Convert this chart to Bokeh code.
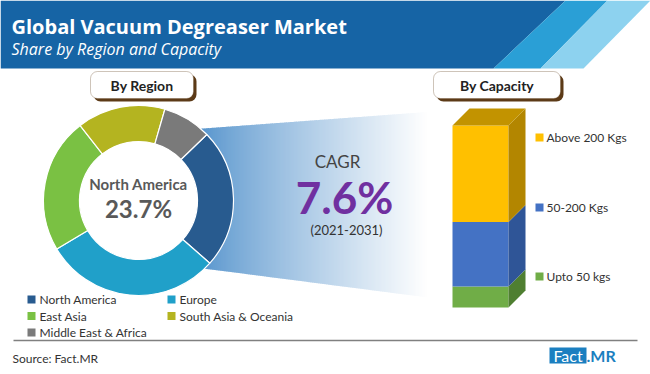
import numpy as np
from bokeh.plotting import figure
from bokeh.models import Range1d, BoxAnnotation
from bokeh.embed import file_html
from bokeh.resources import INLINE
from bokeh.core.properties import value

# ---------------- data ----------------
title = "Global Vacuum Degreaser Market"
subtitle = "Share by Region and Capacity"
regions = ["North America", "Europe", "East Asia", "South Asia & Oceania", "Middle East & Africa"]
region_share = [23.7, 30.0, 23.0, 15.0, 8.3]
region_colors = ["#285b8f", "#20a0c9", "#7ac143", "#b4b420", "#7a7a7a"]
highlight_region = "North America"
capacities = ["Upto 50 kgs", "50-200 Kgs", "Above 200 Kgs"]
capacity_share = [11.5, 35.5, 53.0]
capacity_front = ["#70ad47", "#4472c4", "#ffc000"]
capacity_side = ["#4f7f31", "#2f5597", "#b38600"]
cagr_label = "CAGR"
cagr_value = 7.6
cagr_period = "(2021-2031)"
source = "Source: Fact.MR"

# ---------------- figure ----------------
W, H = 650, 374
p = figure(width=W, height=H, x_range=Range1d(0, W), y_range=Range1d(-H, 0),
           output_backend="svg", toolbar_location=None, min_border=0,
           x_axis_location=None, y_axis_location=None)
p.grid.visible = False
p.outline_line_color = None
p.background_fill_color = "white"
p.border_fill_color = "white"

def txt(x, y, s, size, color="#333333", font="Lato", style="normal", align="left"):
    p.text(x=[x], y=[-y], text=[s], text_font=value(font), text_font_size=f"{size}px",
           text_font_style=style, text_color=color, text_align=align, text_baseline="middle")

# ---------------- banner ----------------
p.patch([0, 565, 493, 0], [0, 0, -68, -68], color="#1664a5", line_color=None)
p.patch([565, 607, 540, 493], [0, 0, -68, -68], color="#2a9fd6", line_color=None)
p.patch([607, 650, 583, 540], [0, 0, -68, -68], color="#8dd2ef", line_color=None)
txt(11, 26, title, 20, "white", "Open Sans", "bold")
txt(11, 48, subtitle, 16, "white", "Open Sans", "italic")

# ---------------- header boxes ----------------
for (l, r) in [(90, 193), (433, 560)]:
    p.add_layout(BoxAnnotation(left=l + 3, right=r + 3, top=-74, bottom=-101, fill_color="#5c3a17",
                               fill_alpha=1, line_color=None, border_radius=7, level="underlay"))
    p.add_layout(BoxAnnotation(left=l, right=r, top=-71, bottom=-98, fill_color="white", fill_alpha=1,
                               line_color="#5c3a17", line_width=1, border_radius=7, level="underlay"))
txt(141.5, 85, "By Region", 14, "#222222", "Lato", "bold", "center")
txt(496.5, 85, "By Capacity", 14, "#222222", "Lato", "bold", "center")

# ---------------- gradient funnel ----------------
cx, cy, R_out, R_in = 138, 200, 95, 59
x0, x1 = 198, 425
c0 = np.array([86, 148, 205]); c1 = np.array([255, 255, 255])
step = 2
xs, ys, cols = [], [], []
def top(x): return 128 + (112 - 128) * (x - 203) / (420 - 203)
def bot(x): return 268 + (296 - 268) * (x - 203) / (420 - 203)
for xa in np.arange(x0, x1, step):
    xb = xa + step + 0.6
    xs.append([xa, xb, xb, xa])
    ys.append([-top(xa), -top(xb), -bot(xb), -bot(xa)])
    t = min(1.0, (xa - x0) / (x1 - x0)) ** 0.85
    c = (c0 + (c1 - c0) * t).astype(int)
    cols.append("#%02x%02x%02x" % tuple(c))
p.patches(xs, ys, fill_color=cols, line_color=None)

# ---------------- donut ----------------
start_deg = 44.0  # math angle where the first slice starts, going clockwise
cum = np.concatenate([[0], np.cumsum(region_share)])
sa = start_deg - cum[:-1] / sum(region_share) * 360
ea = start_deg - cum[1:] / sum(region_share) * 360
p.annular_wedge(x=[cx] * len(regions), y=[-cy] * len(regions), inner_radius=R_in, outer_radius=R_out,
                start_angle=list(sa), end_angle=list(ea), start_angle_units="deg", end_angle_units="deg",
                direction="clock", fill_color=region_colors, line_color="white", line_width=1.2)
hi = regions.index(highlight_region)
txt(cx, 183, highlight_region, 15, "#595959", "Lato", "bold", "center")
txt(cx, 208, f"{region_share[hi]}%", 24, "#595959", "Lato", "bold", "center")

# region legend (2 columns)
for i, (name, col) in enumerate(zip(regions, region_colors)):
    lx = 27 if i % 2 == 0 else 167
    ly = 299 + 16.5 * (i // 2)
    p.rect(x=[lx + 4], y=[-ly], width=8, height=8, fill_color=col, line_color=None)
    txt(lx + 12, ly, name, 12, "#333333", "Lato")

# ---------------- CAGR ----------------
txt(337, 161, cagr_label, 17, "#444444", "Lato", "normal", "center")
txt(344, 196, f"{cagr_value}%", 44, "#7030a0", "Lato", "bold", "center")
txt(346, 229, cagr_period, 13, "#333333", "Lato", "normal", "center")

# ---------------- 3D stacked bar ----------------
bar_bot_px, bar_top_px = 307, 125
total = sum(capacity_share)
k = total / (bar_bot_px - bar_top_px)
# extra range maps the share scale onto the bar's vertical extent
p.extra_y_ranges = {"cap": Range1d(start=(-H + bar_bot_px) * k, end=(0 + bar_bot_px) * k)}
bl, br, dx = 452, 508, 17
dv = 17 * k
ccum = np.concatenate([[0], np.cumsum(capacity_share)])
p.quad(left=bl, right=br, bottom=list(ccum[:-1]), top=list(ccum[1:]), fill_color=capacity_front,
       line_color=None, y_range_name="cap")
side_xs = [[br, br + dx, br + dx, br] for _ in capacities]
side_ys = [[lo, lo + dv, hi_ + dv, hi_] for lo, hi_ in zip(ccum[:-1], ccum[1:])]
p.patches(side_xs, side_ys, fill_color=capacity_side, line_color=None, y_range_name="cap")
p.patch([bl, br, br + dx, bl + dx], [ccum[-1], ccum[-1], ccum[-1] + dv, ccum[-1] + dv],
        fill_color="#c29300", line_color=None, y_range_name="cap")

# capacity legend
for name, col, ly in zip(capacities, capacity_front, [276, 207, 137]):
    p.rect(x=[539], y=[-ly], width=8, height=8, fill_color=col, line_color=None)
    txt(546, ly, name, 12, "#333333", "Lato")

# ---------------- footer ----------------
p.line([13, 637], [-340, -340], line_color="#808080", line_width=1.5)
txt(12, 358, source, 12, "#333333", "Lato")
p.quad(left=[549], right=[586], top=[-347], bottom=[-363], fill_color="#1b7fc0", line_color=None)
txt(567.5, 355, "Fact", 16, "white", "Lato", "normal", "center")
txt(586, 355, ".MR", 16, "#1b7fc0", "Lato", "bold", "left")

open("out.html", "w").write(file_html(p, INLINE))
